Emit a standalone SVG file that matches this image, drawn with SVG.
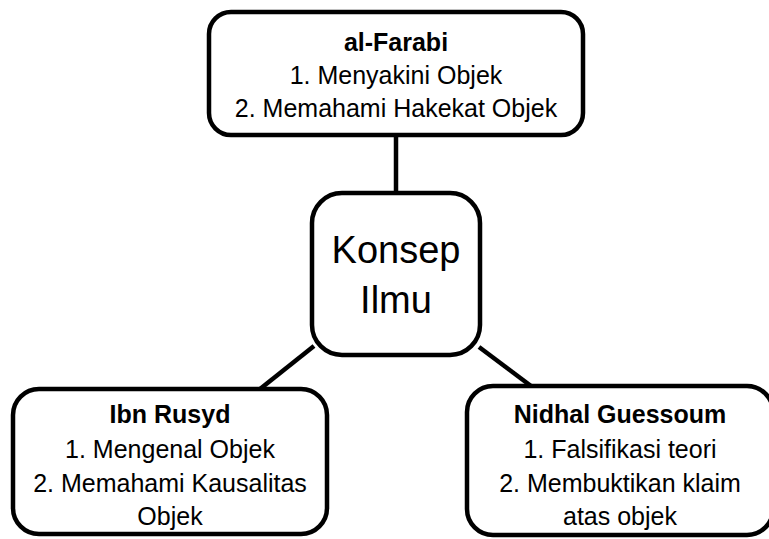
<svg xmlns="http://www.w3.org/2000/svg" width="769" height="539" viewBox="0 0 769 539">
  <style>
    .box { fill: #ffffff; stroke: #000000; stroke-width: 4.5; }
    .link { stroke: #000000; stroke-width: 4.5; fill: none; }
    text { font-family: "Liberation Sans", Arial, sans-serif; fill: #000000; text-anchor: middle; }
    .t { font-size: 25px; }
    .b { font-weight: bold; }
    .big { font-size: 38px; }
  </style>
  <rect width="769" height="539" fill="#ffffff"/>

  <!-- connectors -->
  <g id="connectors">
    <line class="link" x1="396" y1="135" x2="396" y2="193"/>
    <line class="link" x1="314" y1="346" x2="260" y2="389"/>
    <line class="link" x1="479" y1="347" x2="531" y2="386"/>
  </g>

  <!-- top node -->
  <g id="node-farabi">
    <rect class="box" x="209" y="12" width="374" height="123" rx="22" ry="22"/>
    <text class="t b" x="396" y="51">al-Farabi</text>
    <text class="t" x="396" y="84">1. Menyakini Objek</text>
    <text class="t" x="396" y="117">2. Memahami Hakekat Objek</text>
  </g>

  <!-- central node -->
  <g id="node-konsep">
    <rect class="box" x="312" y="193" width="168" height="162" rx="30" ry="30"/>
    <text class="big" x="396" y="263">Konsep</text>
    <text class="big" x="396" y="313">Ilmu</text>
  </g>

  <!-- bottom left node -->
  <g id="node-rusyd">
    <rect class="box" x="13" y="389" width="314" height="145" rx="26" ry="26"/>
    <text class="t b" x="170" y="423">Ibn Rusyd</text>
    <text class="t" x="170" y="458">1. Mengenal Objek</text>
    <text class="t" x="170" y="492">2. Memahami Kausalitas</text>
    <text class="t" x="170" y="525">Objek</text>
  </g>

  <!-- bottom right node -->
  <g id="node-guessoum">
    <rect class="box" x="467" y="386" width="306" height="149" rx="26" ry="26"/>
    <text class="t b" x="620" y="423">Nidhal Guessoum</text>
    <text class="t" x="620" y="458">1. Falsifikasi teori</text>
    <text class="t" x="620" y="492">2. Membuktikan klaim</text>
    <text class="t" x="620" y="525">atas objek</text>
  </g>
</svg>
